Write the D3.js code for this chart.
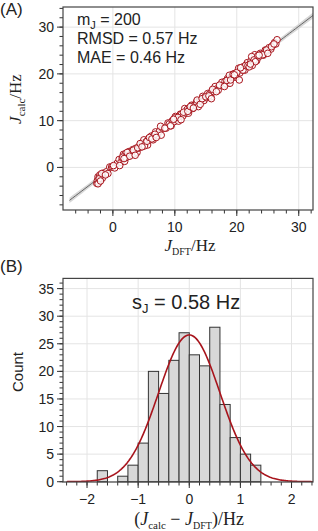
<!DOCTYPE html>
<html>
<head>
<meta charset="utf-8">
<script src="https://cdn.jsdelivr.net/npm/d3@7"></script>
<style>
  body { margin: 0; background: #fff; }
  svg { display: block; }
</style>
</head>
<body>
<script>
// panel A: DFT vs calculated couplings (Hz)
const jDft = [
  -2.6, -2.5, -2.4, -2.3, -2.2, -2.1, -2.0, -1.9, -1.7, -1.5, -1.3, -1.0, -0.8, -0.5,
  -0.2, 0.0, 0.3, 0.7, 1.0, 1.3, 1.5, 1.7, 1.9, 2.0, 2.2, 2.4, 2.6, 2.8, 3.0,
  3.2, 3.4, 3.5, 3.7, 3.9, 4.1, 4.3, 4.6, 4.8, 5.0, 5.2, 5.4, 5.6, 5.8,
  6.0, 6.2, 6.5, 6.7, 6.9, 7.2, 7.5, 7.8, 8.0, 8.3, 8.6, 8.9,
  9.1, 9.4, 9.6, 9.9, 10.1, 10.4, 10.6, 10.9, 11.1, 11.3, 11.6, 11.8,
  12.0, 12.2, 12.4, 12.7, 12.9, 13.1, 13.3, 13.5, 13.8, 14.0, 14.2, 14.5, 14.7, 14.9,
  15.1, 15.3, 15.6, 15.8, 16.0, 16.3, 16.5, 16.8, 17.0, 17.3, 17.6, 17.9,
  18.1, 18.3, 18.5, 18.7, 18.9, 19.1, 19.3, 19.5, 19.7, 19.9, 20.1, 20.3, 20.5, 20.7, 20.9,
  21.1, 21.3, 21.5, 21.7, 21.9, 22.1, 22.3, 22.5, 22.7, 22.9, 23.2, 23.5, 23.8,
  24.0, 24.3, 24.6, 24.9, 25.2, 25.5, 25.8, 26.1, 26.3, 26.5,
  -2.4, -2.2, -1.8, -1.2, 0.1, 1.1, 1.6, 2.1, 2.3, 2.7,
  3.3, 3.6, 4.0, 4.4, 5.1, 5.5, 5.9, 6.3, 6.8, 7.0, 7.7, 8.4,
  9.3, 10.0, 10.5, 11.0, 11.4, 12.1, 12.5, 13.0, 13.6, 14.1, 14.4,
  15.0, 15.5, 16.1, 16.7, 17.2, 18.0, 18.4, 18.8, 19.0, 19.4, 19.8, 20.0, 20.4, 20.8,
  21.0, 21.4, 21.8, 22.0, 22.4, 22.8, 23.0, 23.4, 24.2, 24.8, 25.0, 25.6, 26.0,
  -2.0, 1.8, 4.7, 9.8, 15.9, 19.6, 20.6, 22.2, 23.6
];
const jCalc = [
  -3.4, -2.8, -2.0, -3.2, -2.1, -1.6, -2.4, -1.7, -2.3, -1.2, -1.3, -0.9, -1.3, 0.1,
  0.1, 0.1, -0.1, 0.9, 1.7, 1.1, 2.0, 2.8, 1.3, 2.9, 2.6, 2.3, 3.4, 2.8, 2.7,
  3.8, 2.9, 3.7, 4.1, 3.2, 4.1, 4.6, 4.4, 5.3, 5.9, 4.8, 5.5, 4.8, 6.2,
  5.9, 6.7, 5.9, 7.0, 7.6, 6.9, 7.7, 6.9, 8.4, 8.4, 8.4, 9.5,
  9.3, 8.9, 10.0, 9.8, 10.9, 10.4, 9.9, 11.4, 11.4, 11.0, 12.6, 11.6,
  12.4, 11.6, 12.5, 13.3, 12.6, 13.3, 13.2, 14.0, 13.0, 14.3, 14.2, 15.2, 14.3, 15.1,
  14.9, 15.8, 15.7, 15.1, 16.4, 16.2, 17.3, 16.8, 16.5, 17.6, 18.2, 17.6,
  18.4, 17.9, 19.0, 18.7, 18.0, 19.3, 19.9, 19.3, 20.1, 19.3, 20.2, 21.2, 20.2, 21.2, 20.8,
  21.5, 20.8, 21.7, 22.4, 21.7, 22.1, 22.8, 21.8, 23.0, 24.1, 22.8, 23.6, 24.4,
  24.2, 24.0, 25.1, 24.9, 25.6, 25.3, 26.1, 26.7, 26.4, 27.3,
  -3.5, -2.4, -1.3, -1.6, 0.4, 0.4, 2.2, 2.1, 3.2, 2.4,
  3.7, 2.6, 4.2, 5.1, 4.6, 5.6, 6.4, 6.1, 7.1, 6.4, 8.8, 8.4,
  8.9, 10.6, 10.7, 10.2, 11.8, 12.0, 13.0, 12.7, 14.4, 13.5, 14.7,
  15.1, 15.3, 16.7, 16.2, 17.6, 17.3, 18.6, 19.7, 18.7, 19.9, 19.7, 20.3, 18.7, 21.4,
  20.8, 21.8, 21.8, 21.5, 23.7, 23.0, 22.6, 23.9, 24.1, 25.1, 24.4, 25.8, 26.4,
  -2.9, 1.9, 4.4, 10.3, 14.7, 19.8, 21.3, 22.1, 24.0
];
const statLines = [["m", "J", " = 200"], ["RMSD = 0.57 Hz"], ["MAE = 0.46 Hz"]];

// panel B: residual histogram
const binStarts = [-1.8, -1.6, -1.4, -1.2, -1.0, -0.8, -0.6, -0.4, -0.2, 0.0, 0.2, 0.4, 0.6, 0.8, 1.0, 1.2];
const binCounts = [2, 0, 1, 3, 7, 20, 16, 22, 27, 23, 21, 28, 14, 8, 5, 3];
const binWidth = 0.2;
const fitMean = 0.0;
const fitSd = 0.6;

const W = 318, H = 531;
const sans = "'Liberation Sans', Arial, Helvetica, sans-serif";
const serif = "'Liberation Serif', 'Times New Roman', serif";
const red = "#a8141c";
const frameColor = "#444";
const gridColor = "#e4e4e4";

const svg = d3.select("body").append("svg").attr("width", W).attr("height", H);

// shared grid/ticks drawing
const drawAxes = (g, x, y, o) => {
  const [x0, x1] = x.range(), [y0, y1] = y.range();
  g.append("g").selectAll("line").data(o.xMajor).join("line")
    .attr("x1", d => x(d)).attr("x2", d => x(d)).attr("y1", y0).attr("y2", y1)
    .attr("stroke", gridColor);
  g.append("g").selectAll("line").data(o.yMajor).join("line")
    .attr("x1", x0).attr("x2", x1).attr("y1", d => y(d)).attr("y2", d => y(d))
    .attr("stroke", gridColor);

  const ax = g.append("g").attr("stroke", "#333");
  ax.append("g").selectAll("line").data(o.xMinor).join("line")
    .attr("x1", d => x(d)).attr("x2", d => x(d)).attr("y1", y0).attr("y2", y0 + 3.5);
  ax.append("g").selectAll("line").data(o.xMajor).join("line")
    .attr("x1", d => x(d)).attr("x2", d => x(d)).attr("y1", y0).attr("y2", y0 + 6);
  ax.append("g").selectAll("line").data(o.yMinor).join("line")
    .attr("x1", x0 - 3.5).attr("x2", x0).attr("y1", d => y(d)).attr("y2", d => y(d));
  ax.append("g").selectAll("line").data(o.yMajor).join("line")
    .attr("x1", x0 - 6).attr("x2", x0).attr("y1", d => y(d)).attr("y2", d => y(d));

  g.append("g").selectAll("text").data(o.xMajor).join("text")
    .attr("x", d => x(d)).attr("y", y0 + 22).attr("text-anchor", "middle")
    .attr("font-family", sans).attr("font-size", 14).attr("fill", "#222")
    .text(o.xFmt);
  g.append("g").selectAll("text").data(o.yMajor).join("text")
    .attr("x", x0 - 9).attr("y", d => y(d) + 5).attr("text-anchor", "end")
    .attr("font-family", sans).attr("font-size", 14).attr("fill", "#222")
    .text(o.yFmt);
};

const drawFrame = (g, x, y) => {
  const [x0, x1] = x.range(), [y0, y1] = y.range();
  g.append("rect").attr("x", x0).attr("y", y1).attr("width", x1 - x0).attr("height", y0 - y1)
    .attr("fill", "none").attr("stroke", frameColor).attr("stroke-width", 1.2);
};

/* ------- PANEL A ------- */
const xA = d3.scaleLinear().domain([-8.05, 32.3]).range([63, 313]);
const yA = d3.scaleLinear().domain([-9.1, 34.3]).range([210, 7]);
const gA = svg.append("g");

drawAxes(gA, xA, yA, {
  xMajor: [0, 10, 20, 30], yMajor: [0, 10, 20, 30],
  xMinor: d3.range(-6, 33, 2), yMinor: d3.range(-8, 35, 2),
  xFmt: d3.format("d"), yFmt: d3.format("d")
});

svg.append("clipPath").attr("id", "clipA").append("rect")
  .attr("x", 63).attr("y", 7).attr("width", 250).attr("height", 203);

// least squares fit + confidence band
const n = jDft.length;
const mx = d3.mean(jDft), my = d3.mean(jCalc);
const sxx = d3.sum(jDft, v => (v - mx) ** 2);
const sxy = d3.sum(jDft.map((v, i) => (v - mx) * (jCalc[i] - my)));
const slope = sxy / sxx, icpt = my - slope * mx;
const bandScale = 3.4;
const fitX = d3.range(-7, 33.01, 0.5);
const half = v => bandScale * Math.sqrt(1 / n + (v - mx) ** 2 / sxx);

const clipA = gA.append("g").attr("clip-path", "url(#clipA)");
clipA.append("path").datum(fitX)
  .attr("d", d3.area().x(d => xA(d))
    .y0(d => yA(icpt + slope * d - half(d))).y1(d => yA(icpt + slope * d + half(d))))
  .attr("fill", "#cfcfcf").attr("opacity", 0.85);
clipA.append("path").datum(fitX)
  .attr("d", d3.line().x(d => xA(d)).y(d => yA(icpt + slope * d)))
  .attr("fill", "none").attr("stroke", "#666").attr("stroke-width", 1);

clipA.append("g").selectAll("circle").data(jDft).join("circle")
  .attr("cx", d => xA(d)).attr("cy", (d, i) => yA(jCalc[i])).attr("r", 3.3)
  .attr("fill", "#fff").attr("fill-opacity", 0.85)
  .attr("stroke", red).attr("stroke-width", 1);

drawFrame(gA, xA, yA);

const stats = gA.append("g").attr("font-family", sans).attr("font-size", 16).attr("fill", "#222");
statLines.forEach((parts, i) => {
  const t = stats.append("text").attr("x", 77).attr("y", 25 + i * 19);
  if (parts.length === 1) t.text(parts[0]);
  else {
    t.append("tspan").text(parts[0]);
    t.append("tspan").attr("font-size", 11).attr("dy", 4).text(parts[1]);
    t.append("tspan").attr("dy", -4).text(parts[2]);
  }
});

// axis titles
const lblX = gA.append("text").attr("x", 190).attr("y", 251).attr("text-anchor", "middle")
  .attr("font-family", serif).attr("font-size", 17).attr("fill", "#222");
lblX.append("tspan").attr("font-style", "italic").text("J");
lblX.append("tspan").attr("font-size", 10).attr("dy", 4).text("DFT");
lblX.append("tspan").attr("dy", -4).text("/Hz");

const lblY = gA.append("text").attr("transform", "translate(21,99) rotate(-90)")
  .attr("text-anchor", "middle").attr("font-family", serif).attr("font-size", 17).attr("fill", "#222");
lblY.append("tspan").attr("font-style", "italic").text("J");
lblY.append("tspan").attr("font-size", 11).attr("dy", 4).text("calc");
lblY.append("tspan").attr("dy", -4).text("/Hz");

svg.append("text").attr("x", 0).attr("y", 15).attr("font-family", sans).attr("font-size", 17)
  .attr("fill", "#222").text("(A)");

/* ------- PANEL B ------- */
const xB = d3.scaleLinear().domain([-2.47, 2.42]).range([63, 313]);
const yB = d3.scaleLinear().domain([-0.05, 36.85]).range([482, 278.4]);
const gB = svg.append("g");

drawAxes(gB, xB, yB, {
  xMajor: [-2, -1, 0, 1, 2], yMajor: d3.range(0, 36, 5),
  xMinor: d3.range(-2.4, 2.41, 0.2), yMinor: d3.range(0, 37, 1),
  xFmt: d3.format("d"), yFmt: d3.format("d")
});

gB.append("g").selectAll("rect").data(binStarts).join("rect")
  .attr("x", d => xB(d)).attr("width", d => xB(d + binWidth) - xB(d))
  .attr("y", (d, i) => yB(binCounts[i])).attr("height", (d, i) => yB(0) - yB(binCounts[i]))
  .attr("fill", "#d8d8d8").attr("stroke", "#333").attr("stroke-width", 1)
  .attr("display", (d, i) => binCounts[i] ? null : "none");

svg.append("clipPath").attr("id", "clipB").append("rect")
  .attr("x", 63).attr("y", 278).attr("width", 250).attr("height", 204);

// normal curve scaled to counts
const total = d3.sum(binCounts);
const gauss = v => total * binWidth / (fitSd * Math.sqrt(2 * Math.PI)) * Math.exp(-0.5 * ((v - fitMean) / fitSd) ** 2);
gB.append("path").attr("clip-path", "url(#clipB)").datum(d3.range(-2.4, 2.5, 0.02))
  .attr("d", d3.line().x(d => xB(d)).y(d => yB(gauss(d))))
  .attr("fill", "none").attr("stroke", red).attr("stroke-width", 1.6);

drawFrame(gB, xB, yB);

const sLbl = gB.append("text").attr("x", 132).attr("y", 309)
  .attr("font-family", sans).attr("font-size", 20).attr("fill", "#222");
sLbl.append("tspan").text("s");
sLbl.append("tspan").attr("font-size", 13).attr("dy", 4).text("J");
sLbl.append("tspan").attr("dy", -4).text(" = 0.58 Hz");

const lblXB = gB.append("text").attr("x", 189).attr("y", 525).attr("text-anchor", "middle")
  .attr("font-family", serif).attr("font-size", 18).attr("fill", "#222");
lblXB.append("tspan").text("(");
lblXB.append("tspan").attr("font-style", "italic").text("J");
lblXB.append("tspan").attr("font-size", 11).attr("dy", 4).text("calc");
lblXB.append("tspan").attr("dy", -4).text(" − ");
lblXB.append("tspan").attr("font-style", "italic").text("J");
lblXB.append("tspan").attr("font-size", 10).attr("dy", 4).text("DFT");
lblXB.append("tspan").attr("dy", -4).text(")/Hz");

gB.append("text").attr("transform", "translate(23,372) rotate(-90)").attr("text-anchor", "middle")
  .attr("font-family", sans).attr("font-size", 15).attr("fill", "#222").text("Count");

svg.append("text").attr("x", 0).attr("y", 272).attr("font-family", sans).attr("font-size", 17)
  .attr("fill", "#222").text("(B)");
</script>
</body>
</html>
